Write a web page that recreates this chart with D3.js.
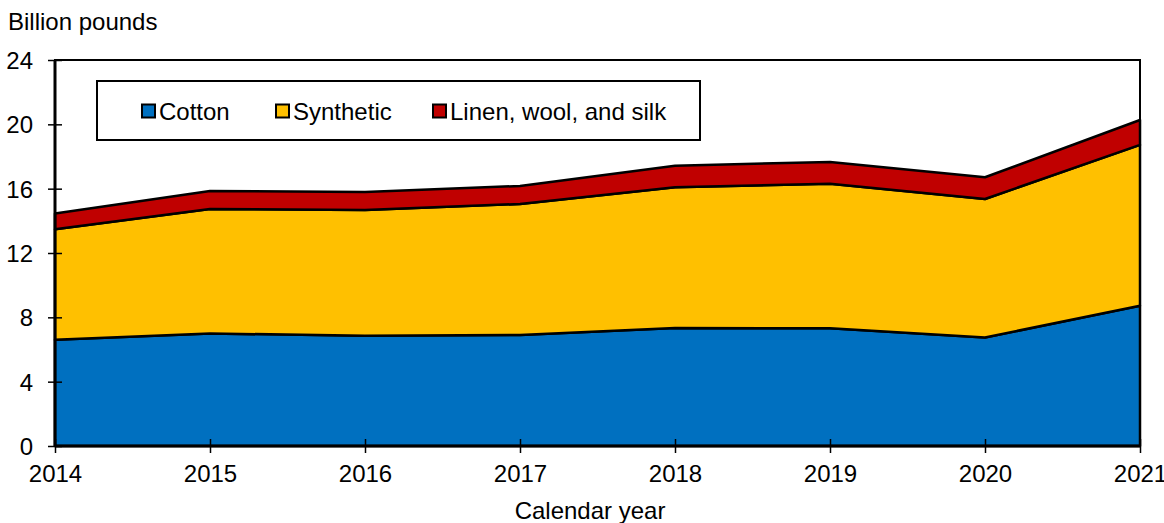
<!DOCTYPE html>
<html>
<head>
<meta charset="utf-8">
<script src="https://cdn.jsdelivr.net/npm/d3@7"></script>
<style>
  body { margin: 0; background: #fff; }
  text { font-family: "Liberation Sans", Arial, sans-serif; fill: #000; }
</style>
</head>
<body>
<div id="chart"></div>
<script>
var years = [2014, 2015, 2016, 2017, 2018, 2019, 2020, 2021];
var cotton = [6.6, 7.0, 6.85, 6.9, 7.33, 7.32, 6.75, 8.72];
var synthetic = [6.87, 7.74, 7.83, 8.15, 8.76, 8.99, 8.61, 10.0];
var linen = [0.98, 1.12, 1.12, 1.12, 1.34, 1.35, 1.35, 1.55];
var seriesNames = ["Cotton", "Synthetic", "Linen, wool, and silk"];
var seriesColors = ["#0070C0", "#FFC000", "#C00000"];
var yTicks = [0, 4, 8, 12, 16, 20, 24];

var width = 1164,
    height = 523,
    margin = {top: 60, right: 24, bottom: 77, left: 55};

var svg = d3.select("#chart")
    .append("svg")
    .attr("width", width)
    .attr("height", height);

var g = svg.append("g")
    .attr("transform", `translate(${margin.left},${margin.top})`);

var w = width - margin.left - margin.right,
    h = height - margin.top - margin.bottom;

var x = d3.scaleLinear().domain([2014, 2021]).range([0, w]);
var y = d3.scaleLinear().domain([0, 24]).range([h, 0]);

var rows = years.map(function(yr, i) {
    return {year: yr, c: cotton[i], s: synthetic[i], l: linen[i]};
});
var layers = d3.stack().keys(["c", "s", "l"])(rows);

var area = d3.area()
    .x(function(d) { return x(d.data.year); })
    .y0(function(d) { return y(d[0]); })
    .y1(function(d) { return y(d[1]); });

g.selectAll(".layer")
    .data(layers)
    .enter()
    .append("path")
    .attr("class", "layer")
    .attr("d", area)
    .style("fill", function(d, i) { return seriesColors[i]; })
    .style("stroke", "#000")
    .style("stroke-width", 2.5)
    .style("stroke-linejoin", "round");

// frame
g.append("rect")
    .attr("x", 0).attr("y", 0)
    .attr("width", w).attr("height", h)
    .style("fill", "none")
    .style("stroke", "#000")
    .style("stroke-width", 2);

// y axis
var yAxis = g.append("g")
    .call(d3.axisLeft(y).tickValues(yTicks).tickSize(0).tickPadding(0));
yAxis.select(".domain").remove();
yAxis.selectAll(".tick text").remove();
yAxis.selectAll(".tick").append("line")
    .attr("x1", -7).attr("x2", 7)
    .style("stroke", "#000").style("stroke-width", 1.5);
yAxis.selectAll(".tick").append("text")
    .attr("x", -22)
    .attr("dy", "0.36em")
    .style("text-anchor", "end")
    .style("font-size", "24px")
    .text(function(d) { return d; });

// x axis
var xAxis = g.append("g")
    .attr("transform", `translate(0,${h})`)
    .call(d3.axisBottom(x).tickValues(years).tickSize(0));
xAxis.select(".domain").remove();
xAxis.selectAll(".tick text").remove();
xAxis.selectAll(".tick").append("line")
    .attr("y1", -7).attr("y2", 7)
    .style("stroke", "#000").style("stroke-width", 1.5);
xAxis.selectAll(".tick").append("text")
    .attr("y", 36)
    .style("text-anchor", "middle")
    .style("font-size", "24px")
    .text(function(d) { return d; });

// thick axis lines
g.append("line")
    .attr("x1", 0).attr("x2", 0).attr("y1", 0).attr("y2", h)
    .style("stroke", "#000").style("stroke-width", 3);
g.append("line")
    .attr("x1", 0).attr("x2", w).attr("y1", h).attr("y2", h)
    .style("stroke", "#000").style("stroke-width", 3);

// titles
svg.append("text")
    .attr("x", 8).attr("y", 30)
    .style("font-size", "24px")
    .text("Billion pounds");

svg.append("text")
    .attr("x", 590).attr("y", 519)
    .style("text-anchor", "middle")
    .style("font-size", "24px")
    .text("Calendar year");

// legend
var legend = svg.append("g")
    .attr("transform", "translate(97,81)");
legend.append("rect")
    .attr("width", 603).attr("height", 59)
    .style("fill", "#fff")
    .style("stroke", "#000")
    .style("stroke-width", 2);

var legendX = [45, 179, 336];
var items = legend.selectAll(".item")
    .data(seriesNames)
    .enter()
    .append("g")
    .attr("class", "item")
    .attr("transform", function(d, i) { return `translate(${legendX[i]},30)`; });
items.append("rect")
    .attr("x", 0).attr("y", -6.5)
    .attr("width", 13).attr("height", 13)
    .style("fill", function(d, i) { return seriesColors[i]; })
    .style("stroke", "#000")
    .style("stroke-width", 2);
items.append("text")
    .attr("x", 17)
    .attr("dy", "0.36em")
    .style("font-size", "24px")
    .text(function(d) { return d; });
</script>
</body>
</html>
